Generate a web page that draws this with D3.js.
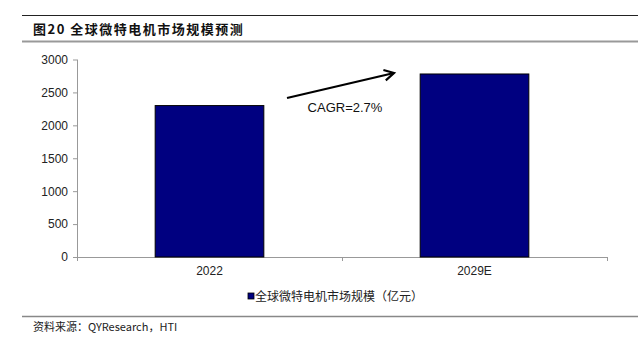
<!DOCTYPE html>
<html><head><meta charset="utf-8">
<script src="https://cdn.jsdelivr.net/npm/d3@7/dist/d3.min.js"></script>
<style>body{margin:0;background:#fff;}svg{display:block;}</style>
</head><body>
<svg id="c" width="638" height="341"></svg>
<script>
const categories = ["2022", "2029E"];
const values = [2300, 2780];
const yTicks = [0, 500, 1000, 1500, 2000, 2500, 3000];
const title = "图20 全球微特电机市场规模预测";
const legendLabel = "全球微特电机市场规模（亿元）";
const cagrLabel = "CAGR=2.7%";
const source = "资料来源：QYResearch，HTI";

const svg = d3.select("#c");
const pL = 77, pR = 607, pT = 59.5, pB = 257;
const x = d3.scaleBand().domain(categories).range([pL, pR]).paddingInner(0.59).paddingOuter(0.295);
const y = d3.scaleLinear().domain([0, 3000]).range([pB, pT]);

// frame lines
svg.append("line").attr("x1", 22).attr("x2", 638).attr("y1", 15.5).attr("y2", 15.5).attr("stroke", "#222").attr("stroke-width", 1);
svg.append("line").attr("x1", 22).attr("x2", 638).attr("y1", 41.5).attr("y2", 41.5).attr("stroke", "#999").attr("stroke-width", 2);
svg.append("line").attr("x1", 22).attr("x2", 638).attr("y1", 316.5).attr("y2", 316.5).attr("stroke", "#888").attr("stroke-width", 1.5);

svg.append("text").attr("x", 33).attr("y", 34).text(title)
  .attr("font-family", "Noto Sans CJK SC").attr("font-weight", "bold").attr("font-size", 13)
  .attr("letter-spacing", 1.5).attr("fill", "#111");
svg.append("text").attr("x", 33).attr("y", 331).text(source)
  .attr("font-family", "Noto Sans CJK SC").attr("font-size", 11).attr("fill", "#222");

// y axis
const ya = svg.append("g").attr("transform", `translate(${pL},0)`)
  .call(d3.axisLeft(y).tickValues(yTicks).tickFormat(d3.format("d")).tickSize(4).tickPadding(5));
ya.select(".domain").attr("stroke", "#999").attr("d", `M0.5,${pT}V${pB}`);
ya.selectAll(".tick line").attr("stroke", "#999");
ya.selectAll(".tick text").attr("font-family", "Liberation Sans, Arial").attr("font-size", 12).attr("fill", "#222");

// x axis
const xa = svg.append("g").attr("transform", `translate(0,${pB})`)
  .call(d3.axisBottom(x).tickSize(0).tickPadding(9));
xa.select(".domain").attr("stroke", "#999").attr("d", `M${pL},0.5H${pR}`);
xa.selectAll(".tick text").attr("font-family", "Liberation Sans, Arial").attr("font-size", 12).attr("fill", "#222");
// category boundary ticks
const bounds = [pL, (x(categories[0]) + x.bandwidth() + x(categories[1])) / 2, pR];
svg.append("g").selectAll("line").data(bounds).join("line")
  .attr("x1", d => Math.round(d) + 0.5).attr("x2", d => Math.round(d) + 0.5)
  .attr("y1", pB).attr("y2", pB + 4).attr("stroke", "#999");

// bars
svg.append("g").selectAll("rect").data(values).join("rect")
  .attr("x", (d, i) => x(categories[i]))
  .attr("y", d => y(d))
  .attr("width", x.bandwidth())
  .attr("height", d => y(0) - y(d))
  .attr("fill", "#000080").attr("stroke", "#000").attr("stroke-width", 1);

// CAGR arrow
const ax1 = 287, ay1 = 98, ax2 = 394, ay2 = 73;
svg.append("line").attr("x1", ax1).attr("y1", ay1).attr("x2", ax2).attr("y2", ay2)
  .attr("stroke", "#000").attr("stroke-width", 2.2);
const ang = Math.atan2(ay2 - ay1, ax2 - ax1);
const hl = 11, ha = 0.5;
svg.append("path")
  .attr("d", `M${ax2 - hl * Math.cos(ang - ha)},${ay2 - hl * Math.sin(ang - ha)}L${ax2},${ay2}L${ax2 - hl * Math.cos(ang + ha)},${ay2 - hl * Math.sin(ang + ha)}`)
  .attr("fill", "none").attr("stroke", "#000").attr("stroke-width", 2.2).attr("stroke-linejoin", "miter");
svg.append("text").attr("x", 345).attr("y", 112).attr("text-anchor", "middle").text(cagrLabel)
  .attr("font-family", "Liberation Sans, Arial").attr("font-size", 13).attr("fill", "#111");

// legend
svg.append("rect").attr("x", 248).attr("y", 293).attr("width", 6).attr("height", 6)
  .attr("fill", "#000080").attr("stroke", "#000").attr("stroke-width", 0.8);
svg.append("text").attr("x", 255).attr("y", 301).text(legendLabel)
  .attr("font-family", "Noto Sans CJK SC").attr("font-size", 12).attr("fill", "#222");
</script>
</body></html>
